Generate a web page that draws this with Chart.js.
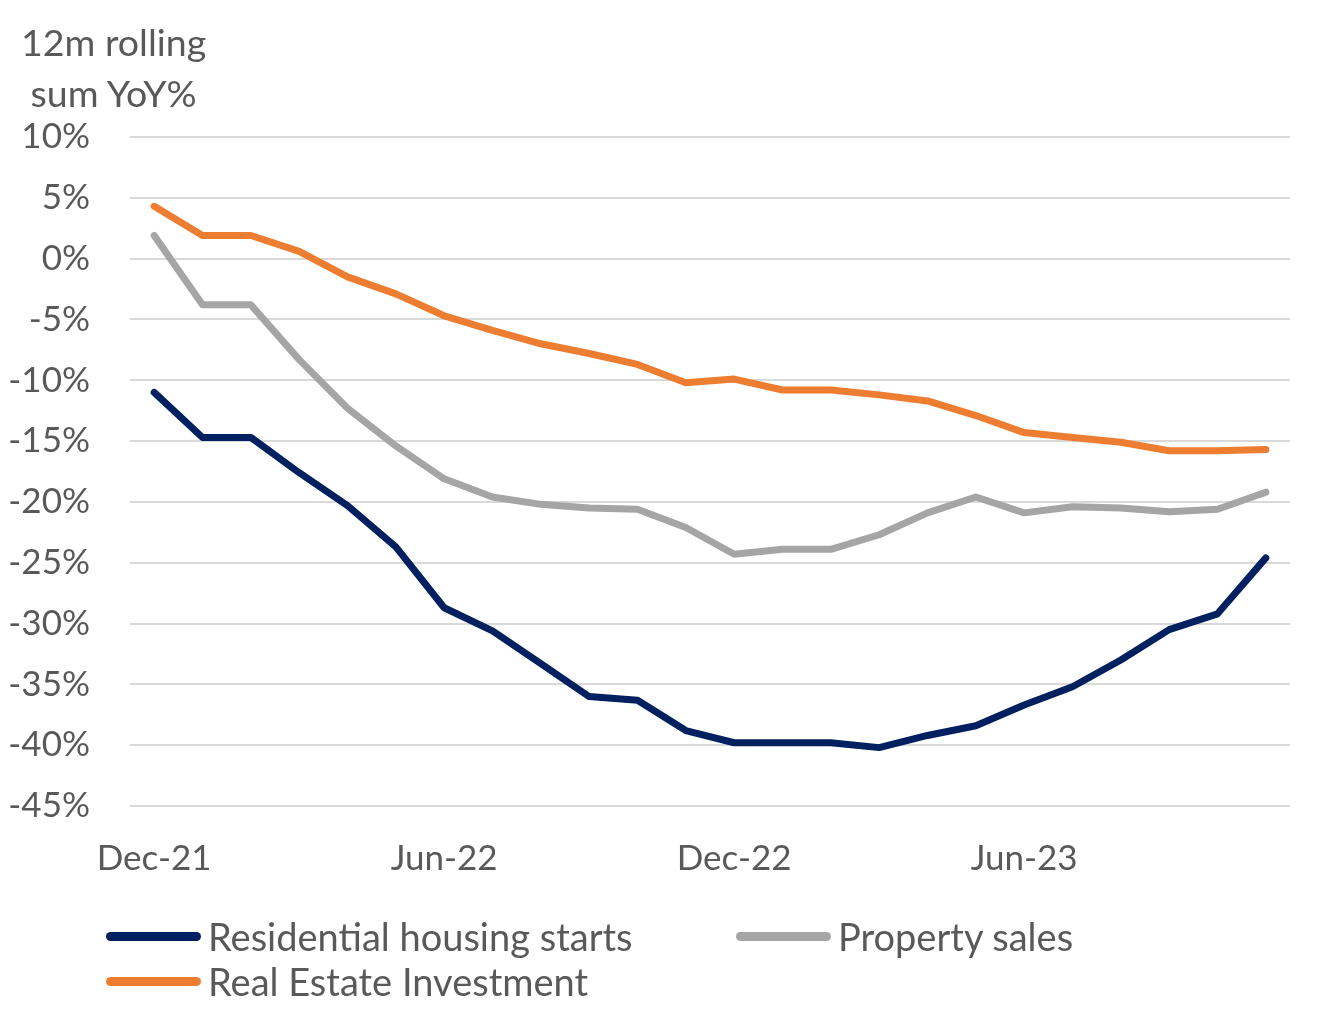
<!DOCTYPE html>
<html>
<head>
<meta charset="utf-8">
<script src="https://cdn.jsdelivr.net/npm/chart.js@4.4.0/dist/chart.umd.min.js"></script>
<style>
  html, body { margin: 0; padding: 0; background: #fff; }
  body { width: 1321px; height: 1023px; position: relative; overflow: hidden; font-family: Lato, "Noto Sans", sans-serif; color: #595959; }
  #wrap { position: absolute; left: 0; top: 0; width: 1321px; height: 906px; }
  #titulo { position: absolute; left: 21px; top: 16px; font-size: 37.5px; line-height: 51px; white-space: pre; }
  #leyenda { position: absolute; left: 0; top: 0; width: 1321px; height: 1023px; pointer-events: none; }
  .item { position: absolute; display: flex; align-items: center; font-size: 38px; }
  .muestra { width: 95px; height: 9px; border-radius: 5px; margin-right: 7px; }
</style>
</head>
<body>
<div id="wrap"><canvas id="grafico"></canvas></div>
<div id="titulo">12m rolling
 sum YoY%</div>
<div id="leyenda"></div>
<script>
// Datos (mensual, dic-21 a nov-23)
const meses = ['Dec-21','Jan-22','Feb-22','Mar-22','Apr-22','May-22','Jun-22','Jul-22','Aug-22','Sep-22','Oct-22','Nov-22',
               'Dec-22','Jan-23','Feb-23','Mar-23','Apr-23','May-23','Jun-23','Jul-23','Aug-23','Sep-23','Oct-23','Nov-23'];
const etiquetasX = ['Dec-21', 'Jun-22', 'Dec-22', 'Jun-23'];

const inicioViviendas = [-11.0, -14.7, -14.7, -17.6, -20.3, -23.7, -28.7, -30.6, -33.3, -36.0, -36.3, -38.8,
                         -39.8, -39.8, -39.8, -40.2, -39.2, -38.4, -36.7, -35.2, -33.0, -30.5, -29.2, -24.6];
const ventasPropiedades = [1.9, -3.8, -3.8, -8.3, -12.3, -15.4, -18.1, -19.6, -20.2, -20.5, -20.6, -22.1,
                           -24.3, -23.9, -23.9, -22.7, -20.9, -19.6, -20.9, -20.4, -20.5, -20.8, -20.6, -19.2];
const inversionInmobiliaria = [4.3, 1.9, 1.9, 0.6, -1.5, -2.9, -4.7, -5.9, -7.0, -7.8, -8.7, -10.2,
                               -9.9, -10.8, -10.8, -11.2, -11.7, -12.9, -14.3, -14.7, -15.1, -15.8, -15.8, -15.7];

const series = [
  { label: 'Residential housing starts', data: inicioViviendas, color: '#002060' },
  { label: 'Property sales', data: ventasPropiedades, color: '#a5a5a5' },
  { label: 'Real Estate Investment', data: inversionInmobiliaria, color: '#ed7d31' }
];

const fuente = { family: 'Lato, "Noto Sans", sans-serif', size: 35 };

const ctx = document.getElementById('grafico').getContext('2d');
new Chart(ctx, {
  type: 'line',
  data: {
    labels: meses,
    datasets: series.map(s => ({
      label: s.label,
      data: s.data,
      borderColor: s.color,
      backgroundColor: s.color,
      borderWidth: 7,
      borderCapStyle: 'round',
      borderJoinStyle: 'round',
      pointRadius: 0,
      tension: 0
    }))
  },
  options: {
    responsive: true,
    maintainAspectRatio: false,
    animation: false,
    layout: { padding: { top: 137, right: 31, left: 0, bottom: 2 } },
    plugins: {
      legend: { display: false },
      tooltip: { enabled: false }
    },
    scales: {
      x: {
        offset: true,
        grid: { display: false },
        border: { display: false },
        ticks: {
          autoSkip: false,
          maxRotation: 0,
          padding: 24,
          color: '#595959',
          font: fuente,
          callback: (v, i) => etiquetasX.includes(meses[i]) ? meses[i] : ''
        }
      },
      y: {
        min: -45,
        max: 10,
        afterFit: (escala) => { escala.width = 130; },
        grid: { color: '#d9d9d9', lineWidth: 2, drawTicks: false },
        border: { display: false },
        ticks: {
          stepSize: 5,
          padding: 40,
          color: '#595959',
          font: fuente,
          callback: v => v + '%'
        }
      }
    }
  }
});

// Leyenda en HTML (dos filas como el original)
const posiciones = [{ x: 106, y: 936 }, { x: 736, y: 936 }, { x: 106, y: 981 }];
const leyenda = document.getElementById('leyenda');
series.forEach((s, i) => {
  const item = document.createElement('div');
  item.className = 'item';
  item.style.left = posiciones[i].x + 'px';
  item.style.top = (posiciones[i].y - 22) + 'px';
  item.style.height = '44px';
  item.innerHTML = `<span class="muestra" style="background:${s.color}"></span><span>${s.label}</span>`;
  leyenda.appendChild(item);
});
</script>
</body>
</html>
